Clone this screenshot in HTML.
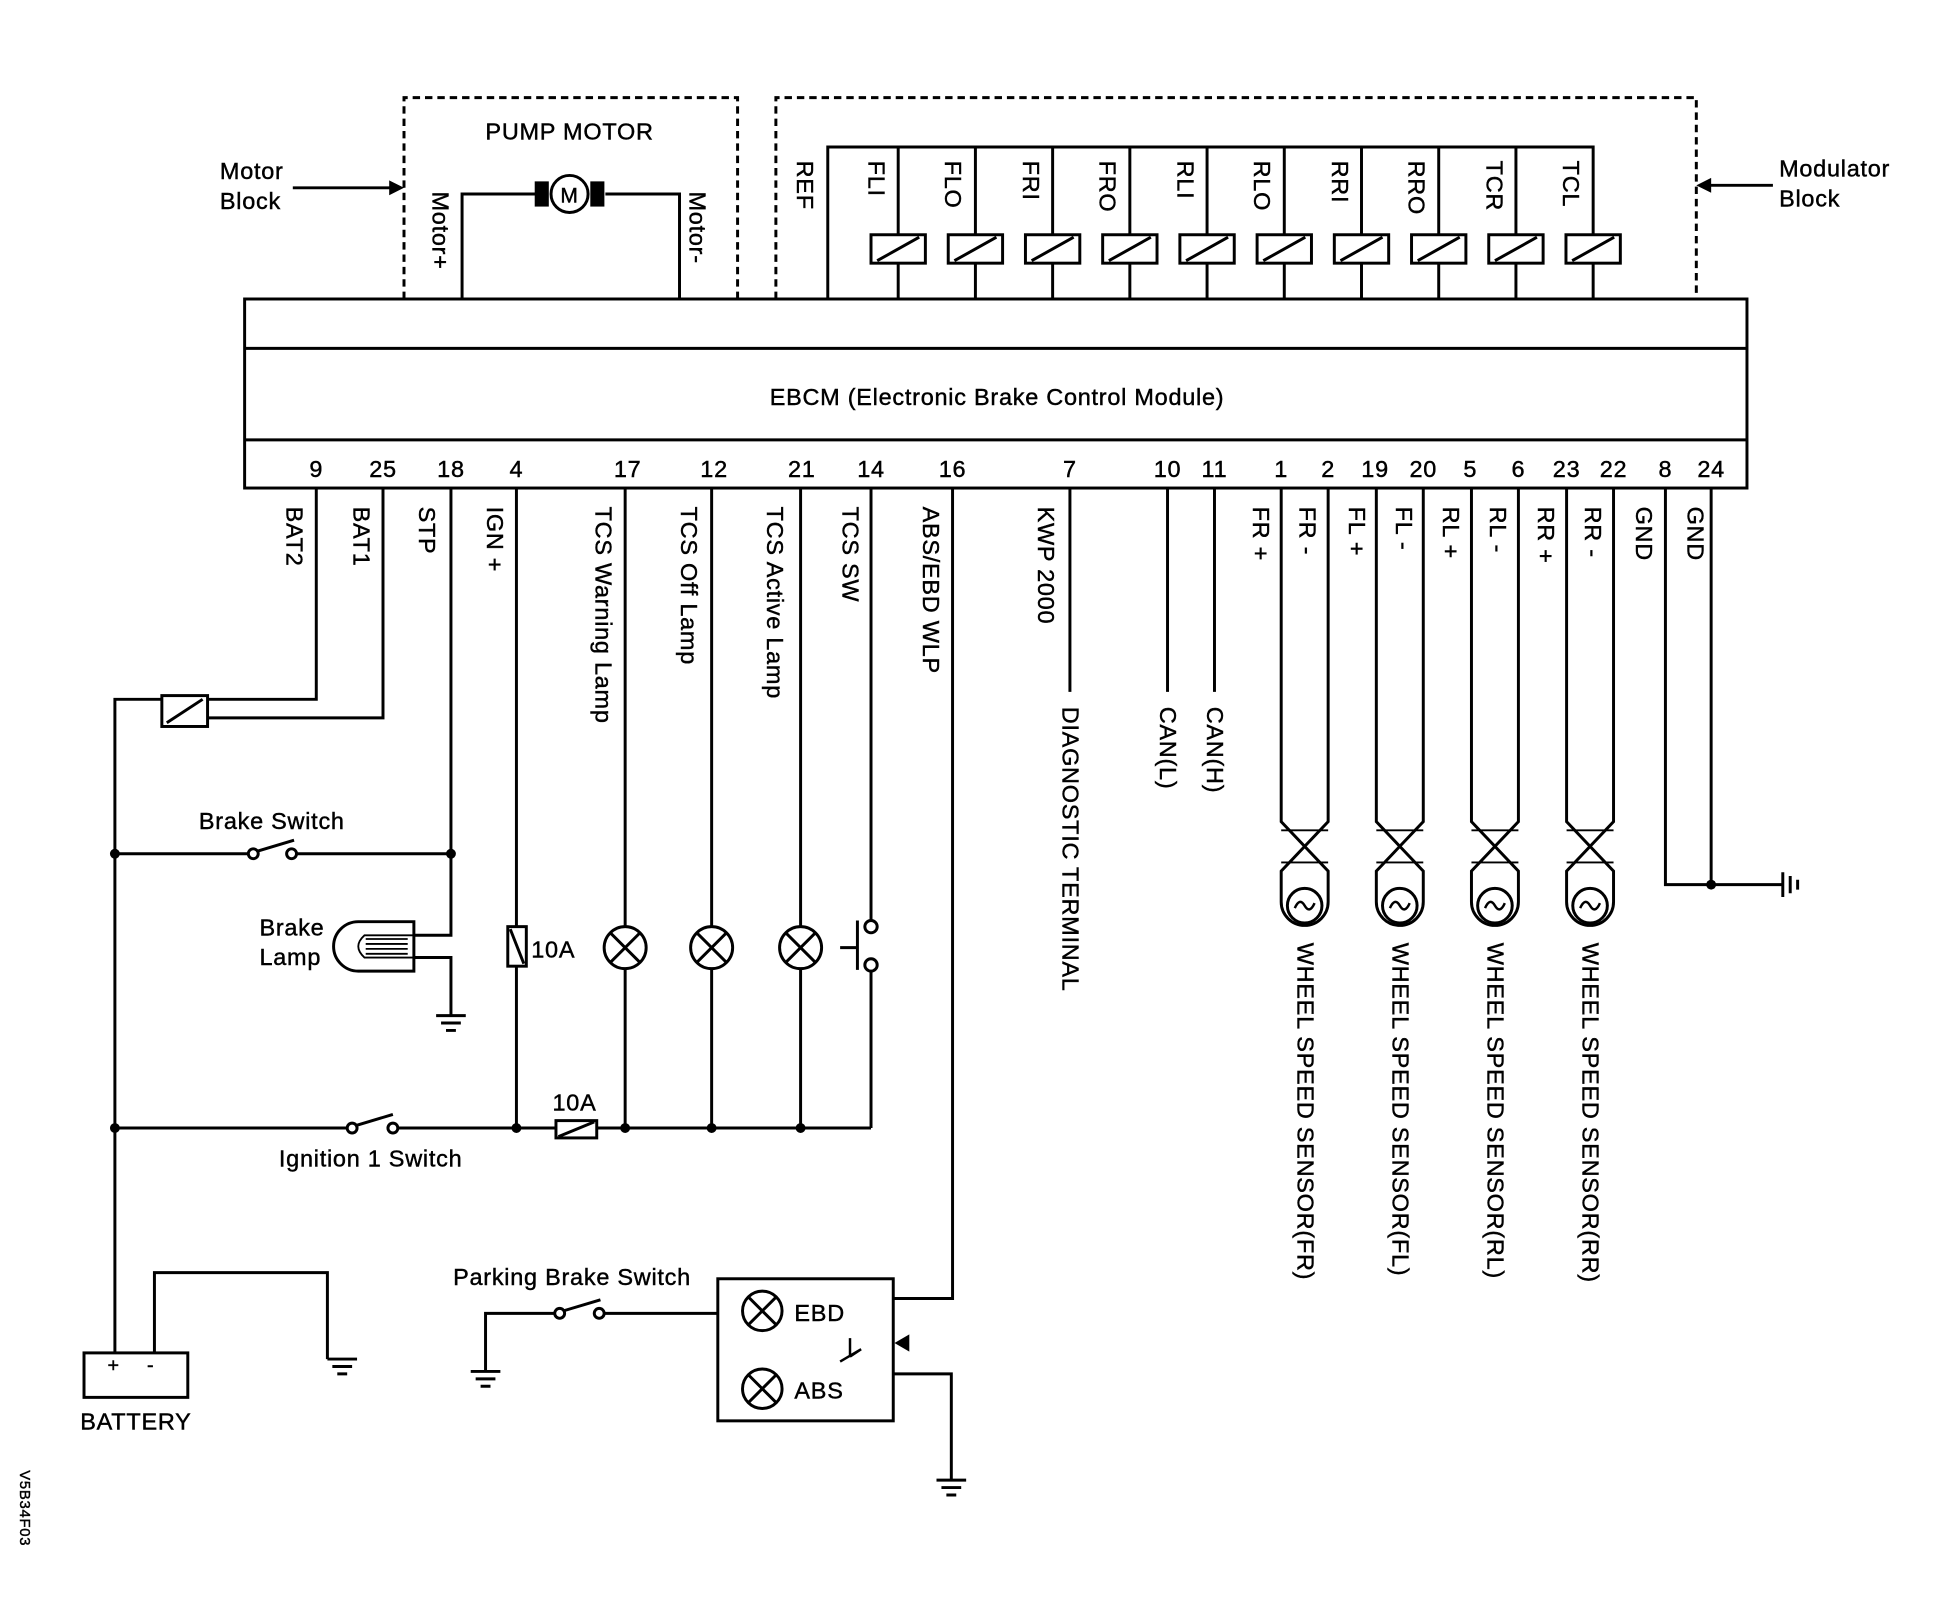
<!DOCTYPE html>
<html><head><meta charset="utf-8"><style>
html,body{margin:0;padding:0;background:#fff;}
svg{display:block}
text{font-family:"Liberation Sans",Arial,sans-serif;fill:#000;stroke:#000;stroke-width:0.35;letter-spacing:0.6px;}
</style></head><body>
<svg width="1936" height="1600" viewBox="0 0 1567 1295" preserveAspectRatio="none" xmlns="http://www.w3.org/2000/svg">
<g stroke="#000" stroke-width="2.4" fill="none">
<path d="M327 242 V79 H597 V242" stroke-dasharray="6 4"/>
<path d="M628 242 V79 H1373 V242" stroke-dasharray="6 4"/>
<path d="M374 242 V157 H434 M490 157 H550 V242"/>
<circle cx="461" cy="157" r="15" fill="#fff"/>
<rect x="434" y="148" width="9" height="18" fill="#000"/>
<rect x="479" y="148" width="9" height="18" fill="#000"/>
<path d="M237 152 H318"/>
<path d="M1435 150 H1384"/>
<path d="M670 242 V119 H1289.5 V242"/>
<path d="M727 119V242 M789.5 119V242 M852 119V242 M914.5 119V242 M977 119V242 M1039.5 119V242 M1102 119V242 M1164.5 119V242 M1227 119V242"/>
<rect x="198" y="242" width="1216" height="153" fill="none"/>
<path d="M198 282 H1414 M198 356 H1414"/>
<path d="M256 395 V566 H168 M310 395 V581 H168 M131 566 H93 V1095"/>
<path d="M365 395 V757 H335 M335 775 H365 V822"/>
<path d="M93 691 H205 M236 691 H365"/>
<path d="M418 395 V913"/>
<path d="M506 395 V913 M576 395 V913 M648 395 V913"/>
<path d="M705 395 V745 M705 786 V913"/>
<path d="M93 913 H285 M318 913 H705"/>
<path d="M771 395 V1051 H723"/>
<path d="M866 395 V560 M945 395 V560 M983 395 V560"/>
<path d="M1348 395 V716 H1443 M1385 395 V716"/>
<path d="M125 1095 V1030 H265 V1100"/>
<rect x="68" y="1095" width="84" height="36" fill="#fff"/>
<path d="M581 1063 H488 M450 1063 H393 V1110"/>
<path d="M723 1112 H770 V1198"/>
<rect x="581" y="1035" width="142" height="115" fill="#fff"/>
</g>
<g stroke="#000" stroke-width="2.4" fill="#fff">
<g id="c"><rect x="705" y="190" width="44" height="23"/><path d="M710 211 L744 192"/></g>
<use href="#c" x="62.5"/><use href="#c" x="125"/><use href="#c" x="187.5"/><use href="#c" x="250"/><use href="#c" x="312.5"/><use href="#c" x="375"/><use href="#c" x="437.5"/><use href="#c" x="500"/><use href="#c" x="562.5"/>
<rect x="131" y="563" width="37" height="25"/><path d="M135 585 L164 566" fill="none"/>
<circle cx="205" cy="691" r="4"/><circle cx="236" cy="691" r="4"/><path d="M208 689 L238 680" fill="none"/>
<circle cx="285" cy="913" r="4"/><circle cx="318" cy="913" r="4"/><path d="M288 911 L318 902" fill="none"/>
<circle cx="453" cy="1063" r="4"/><circle cx="485" cy="1063" r="4"/><path d="M456 1061 L486 1052" fill="none"/>
<rect x="411" y="750" width="15" height="32"/><path d="M413 752 L424 780" fill="none"/>
<rect x="450" y="907" width="33" height="14"/><path d="M452 920 L481 908" fill="none"/>
<g id="l"><circle cx="506" cy="767" r="17"/><path d="M494 755 L518 779 M518 755 L494 779" fill="none"/></g>
<use href="#l" x="70"/><use href="#l" x="142"/>
<circle cx="617" cy="1061" r="16"/><path d="M606 1050 L628 1072 M628 1050 L606 1072" fill="none"/>
<circle cx="617" cy="1124" r="16"/><path d="M606 1113 L628 1135 M628 1113 L606 1135" fill="none"/>
<circle cx="705" cy="750" r="5"/><circle cx="705" cy="781" r="5"/>
<path d="M694 745 V785 M680 767 H694" fill="none"/>
<path d="M335 746 H290 A16 16 0 0 0 290 786 H335 Z"/>
<path d="M335 757 H295 Q285 766 295 775 H335" fill="none" stroke-width="1.5"/>
<path d="M296 760 H330 M296 764 H330 M296 768 H330 M296 772 H330" stroke-width="1.5"/>
</g>
<g stroke="#000" stroke-width="2.4" fill="none">
<g id="s"><path d="M1037 395 V665 L1075 705 V730 A19 19 0 0 1 1037 730 V705 L1075 665 V395"/>
<path d="M1037 672 L1075 672 M1037 698 L1075 698" stroke-width="1.5"/>
<circle cx="1056" cy="733" r="14"/><path d="M1048 735 Q1052 726 1056 733 Q1060 740 1064 731" stroke-width="2"/></g>
<use href="#s" x="77"/><use href="#s" x="154"/><use href="#s" x="231"/>
</g>
<g fill="#000"><circle cx="93" cy="691" r="4"/><circle cx="365" cy="691" r="4"/><circle cx="93" cy="913" r="4"/><circle cx="418" cy="913" r="4"/><circle cx="506" cy="913" r="4"/><circle cx="576" cy="913" r="4"/><circle cx="648" cy="913" r="4"/><circle cx="1385" cy="716" r="4"/>
<path d="M327 152 L315 146 V158Z"/><path d="M1373 150 L1385 144 V156Z"/><path d="M724 1087 L736 1080 V1094Z"/></g>
<g stroke="#000" stroke-width="2.4" fill="none">
<g id="g"><path d="M353 822 H377 M357 828 H373 M361 834 H369"/></g>
<use href="#g" x="-88" y="278"/><use href="#g" x="28" y="288"/><use href="#g" x="405" y="376"/>
<path d="M1443 706 V726 M1449 709 V723 M1455 712 V720"/>
<path d="M680 1102 L697 1092 M688 1083 V1098 M688 1098 L697 1092" stroke-width="2"/>
</g>
<g font-size="19">
<text x="461" y="113" text-anchor="middle">PUMP MOTOR</text>
<text x="461" y="164" text-anchor="middle" font-size="17">M</text>
<text x="178" y="145">Motor</text><text x="178" y="169">Block</text>
<text x="1440" y="143">Modulator</text><text x="1440" y="167">Block</text>
<text x="807" y="328" text-anchor="middle">EBCM (Electronic Brake Control Module)</text>
<g text-anchor="middle">
<text x="256" y="386">9</text><text x="310" y="386">25</text><text x="365" y="386">18</text><text x="418" y="386">4</text><text x="508" y="386">17</text><text x="578" y="386">12</text><text x="649" y="386">21</text><text x="705" y="386">14</text><text x="771" y="386">16</text><text x="866" y="386">7</text><text x="945" y="386">10</text><text x="983" y="386">11</text><text x="1037" y="386">1</text><text x="1075" y="386">2</text><text x="1113" y="386">19</text><text x="1152" y="386">20</text><text x="1190" y="386">5</text><text x="1229" y="386">6</text><text x="1268" y="386">23</text><text x="1306" y="386">22</text><text x="1348" y="386">8</text><text x="1385" y="386">24</text>
</g>
<g>
<text transform="translate(350,155) rotate(90)">Motor+</text>
<text transform="translate(558,155) rotate(90)">Motor-</text>
<text transform="translate(645,130) rotate(90)">REF</text>
<text transform="translate(703,130) rotate(90)">FLI</text>
<text transform="translate(765,130) rotate(90)">FLO</text>
<text transform="translate(828,130) rotate(90)">FRI</text>
<text transform="translate(890,130) rotate(90)">FRO</text>
<text transform="translate(953,130) rotate(90)">RLI</text>
<text transform="translate(1015,130) rotate(90)">RLO</text>
<text transform="translate(1078,130) rotate(90)">RRI</text>
<text transform="translate(1140,130) rotate(90)">RRO</text>
<text transform="translate(1203,130) rotate(90)">TCR</text>
<text transform="translate(1265,130) rotate(90)">TCL</text>
<text transform="translate(232,410) rotate(90)">BAT2</text>
<text transform="translate(286,410) rotate(90)">BAT1</text>
<text transform="translate(339,410) rotate(90)">STP</text>
<text transform="translate(394,410) rotate(90)">IGN +</text>
<text transform="translate(482,410) rotate(90)">TCS Warning Lamp</text>
<text transform="translate(551,410) rotate(90)">TCS Off Lamp</text>
<text transform="translate(621,410) rotate(90)">TCS Active Lamp</text>
<text transform="translate(682,410) rotate(90)">TCS SW</text>
<text transform="translate(747,410) rotate(90)">ABS/EBD WLP</text>
<text transform="translate(840,410) rotate(90)">KWP 2000</text>
<text transform="translate(860,572) rotate(90)">DIAGNOSTIC TERMINAL</text>
<text transform="translate(939,572) rotate(90)">CAN(L)</text>
<text transform="translate(977,572) rotate(90)">CAN(H)</text>
<text transform="translate(1014,410) rotate(90)">FR +</text>
<text transform="translate(1052,410) rotate(90)">FR -</text>
<text transform="translate(1092,410) rotate(90)">FL +</text>
<text transform="translate(1130,410) rotate(90)">FL -</text>
<text transform="translate(1168,410) rotate(90)">RL +</text>
<text transform="translate(1206,410) rotate(90)">RL -</text>
<text transform="translate(1245,410) rotate(90)">RR +</text>
<text transform="translate(1283,410) rotate(90)">RR -</text>
<text transform="translate(1324,410) rotate(90)">GND</text>
<text transform="translate(1366,410) rotate(90)">GND</text>
<text transform="translate(1050,763) rotate(90)">WHEEL SPEED SENSOR(FR)</text>
<text transform="translate(1127,763) rotate(90)">WHEEL SPEED SENSOR(FL)</text>
<text transform="translate(1204,763) rotate(90)">WHEEL SPEED SENSOR(RL)</text>
<text transform="translate(1281,763) rotate(90)">WHEEL SPEED SENSOR(RR)</text>
<text transform="translate(16,1190) rotate(90)" font-size="12">V5B34F03</text>
</g>
<text x="220" y="671" text-anchor="middle">Brake Switch</text>
<text x="210" y="757">Brake</text><text x="210" y="781">Lamp</text>
<text x="430" y="775">10A</text>
<text x="465" y="899" text-anchor="middle">10A</text>
<text x="300" y="944" text-anchor="middle">Ignition 1 Switch</text>
<text x="463" y="1040" text-anchor="middle">Parking Brake Switch</text>
<text x="643" y="1069">EBD</text><text x="643" y="1132">ABS</text>
<text x="87" y="1110" font-size="16">+</text><text x="119" y="1110" font-size="16">-</text>
<text x="110" y="1157" text-anchor="middle">BATTERY</text>
</g>
</svg>
</body></html>
